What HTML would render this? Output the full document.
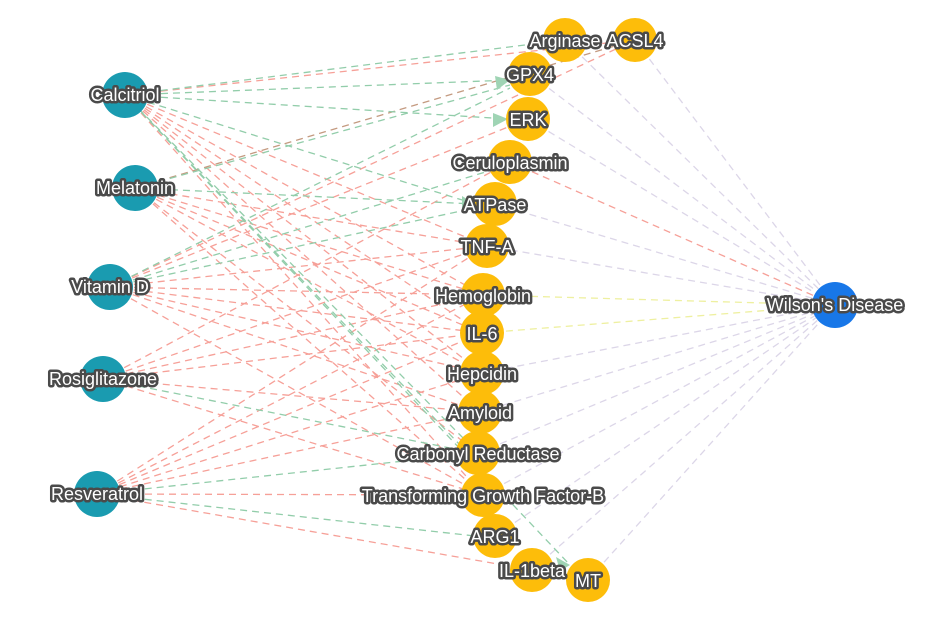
<!DOCTYPE html>
<html><head><meta charset="utf-8"><style>
html,body{margin:0;padding:0;background:#fff;}
svg{display:block}
text{font-family:"Liberation Sans",Arial,sans-serif;font-size:18px;fill:#fff;stroke:#4a4a4a;stroke-width:5px;paint-order:stroke;stroke-linejoin:round;text-anchor:middle;dominant-baseline:central}
.r{stroke:#f6a098;stroke-width:1.3;stroke-dasharray:7 5;fill:none}
.g{stroke:#92cdaa;stroke-width:1.3;stroke-dasharray:7 5;fill:none}
.w{stroke:#dcd6e8;stroke-width:1.3;stroke-dasharray:7 5;fill:none}
.t{fill:#1a9bb0}.y{fill:#fdbd0a}
</style></head><body>
<svg width="950" height="633" viewBox="0 0 950 633">
<g class="w">
<line x1="565" y1="40" x2="835" y2="305"/><line x1="635" y1="40" x2="835" y2="305"/>
<line x1="530" y1="74" x2="835" y2="305"/><line x1="528" y1="119" x2="835" y2="305"/>
<line x1="495" y1="204" x2="835" y2="305"/><line x1="487" y1="246" x2="835" y2="305"/>
<line x1="482" y1="373" x2="835" y2="305"/><line x1="480" y1="412" x2="835" y2="305"/>
<line x1="478" y1="453" x2="835" y2="305"/><line x1="483" y1="495" x2="835" y2="305"/>
<line x1="495" y1="536" x2="835" y2="305"/><line x1="532" y1="570" x2="835" y2="305"/>
<line x1="588" y1="580" x2="835" y2="305"/>
</g>
<line x1="510" y1="162" x2="835" y2="305" class="r"/>
<line x1="483" y1="295" x2="835" y2="305" style="stroke:#eef0a0;stroke-width:1.3;stroke-dasharray:7 5"/>
<line x1="482" y1="333" x2="835" y2="305" style="stroke:#eef0a0;stroke-width:1.3;stroke-dasharray:7 5"/>
<g class="r">
<line x1="125" y1="95" x2="635" y2="40"/><line x1="125" y1="95" x2="487" y2="246"/><line x1="125" y1="95" x2="483" y2="295"/><line x1="125" y1="95" x2="482" y2="333"/><line x1="125" y1="95" x2="482" y2="373"/><line x1="125" y1="95" x2="480" y2="412"/><line x1="125" y1="95" x2="483" y2="495"/>
<line x1="135" y1="188" x2="487" y2="246"/><line x1="135" y1="188" x2="483" y2="295"/><line x1="135" y1="188" x2="482" y2="333"/><line x1="135" y1="188" x2="482" y2="373"/><line x1="135" y1="188" x2="478" y2="453"/><line x1="135" y1="188" x2="483" y2="495"/>
<line x1="110" y1="287" x2="635" y2="40"/><line x1="110" y1="287" x2="528" y2="119"/><line x1="110" y1="287" x2="487" y2="246"/><line x1="110" y1="287" x2="483" y2="295"/><line x1="110" y1="287" x2="482" y2="333"/><line x1="110" y1="287" x2="482" y2="373"/><line x1="110" y1="287" x2="480" y2="412"/><line x1="110" y1="287" x2="483" y2="495"/>
<line x1="103" y1="379" x2="487" y2="246"/><line x1="103" y1="379" x2="483" y2="295"/><line x1="103" y1="379" x2="482" y2="333"/><line x1="103" y1="379" x2="480" y2="412"/><line x1="103" y1="379" x2="483" y2="495"/><line x1="103" y1="379" x2="510" y2="162"/>
<line x1="97" y1="494" x2="487" y2="246"/><line x1="97" y1="494" x2="483" y2="295"/><line x1="97" y1="494" x2="482" y2="333"/><line x1="97" y1="494" x2="482" y2="373"/><line x1="97" y1="494" x2="483" y2="495"/><line x1="97" y1="494" x2="532" y2="570"/><line x1="97" y1="494" x2="480" y2="412"/>
</g>
<line x1="135" y1="188" x2="635" y2="40" style="stroke:#c49a80;stroke-width:1.3;stroke-dasharray:7 5"/>
<g class="g">
<line x1="125" y1="95" x2="565" y2="40"/><line x1="125" y1="95" x2="510" y2="80"/><line x1="125" y1="95" x2="508" y2="119"/><line x1="125" y1="95" x2="475" y2="204"/><line x1="125" y1="95" x2="460" y2="445"/><line x1="125" y1="95" x2="570" y2="565"/><line x1="130" y1="100" x2="465" y2="440"/>
<line x1="135" y1="188" x2="510" y2="85"/><line x1="135" y1="188" x2="475" y2="204"/>
<line x1="110" y1="287" x2="510" y2="88"/><line x1="110" y1="287" x2="492" y2="170"/><line x1="110" y1="287" x2="475" y2="208"/>
<line x1="103" y1="379" x2="460" y2="450"/><line x1="97" y1="494" x2="475" y2="536"/><line x1="97" y1="494" x2="460" y2="455"/>
</g>
<g fill="#9fd4b4">
<polygon points="510,80 495,76 497,90"/><polygon points="508,119 493,113 493,127"/><polygon points="475,204 462,196 462,212"/><polygon points="570,565 556,557 560,571"/>
</g>
<circle class="y" cx="565" cy="40" r="22"/><circle class="y" cx="635" cy="40" r="22"/>
<circle class="y" cx="530" cy="74" r="22"/><circle class="y" cx="528" cy="119" r="22"/>
<circle class="y" cx="510" cy="162" r="22"/><circle class="y" cx="495" cy="204" r="22"/>
<circle class="y" cx="487" cy="246" r="22"/><circle class="y" cx="483" cy="295" r="22"/>
<circle class="y" cx="482" cy="333" r="22"/><circle class="y" cx="482" cy="373" r="22"/>
<circle class="y" cx="480" cy="412" r="22"/><circle class="y" cx="478" cy="453" r="22"/>
<circle class="y" cx="483" cy="495" r="22"/><circle class="y" cx="495" cy="536" r="22"/>
<circle class="y" cx="532" cy="570" r="22"/><circle class="y" cx="588" cy="580" r="22"/>
<circle class="t" cx="125" cy="95" r="23"/><circle class="t" cx="135" cy="188" r="23"/>
<circle class="t" cx="110" cy="287" r="23"/><circle class="t" cx="103" cy="379" r="23"/>
<circle class="t" cx="97" cy="494" r="23"/>
<circle cx="835" cy="305" r="23" fill="#1877e8"/>
<text x="125" y="95">Calcitriol</text><text x="135" y="188">Melatonin</text>
<text x="110" y="287">Vitamin D</text><text x="103" y="379">Rosiglitazone</text>
<text x="97" y="494">Resveratrol</text><text x="835" y="305">Wilson's Disease</text>
<text x="565" y="41">Arginase</text><text x="635" y="41">ACSL4</text>
<text x="530" y="75">GPX4</text><text x="528" y="120">ERK</text>
<text x="510" y="163">Ceruloplasmin</text><text x="495" y="205">ATPase</text>
<text x="487" y="247">TNF-A</text><text x="483" y="296">Hemoglobin</text>
<text x="482" y="334">IL-6</text><text x="482" y="374">Hepcidin</text>
<text x="480" y="413">Amyloid</text><text x="478" y="454">Carbonyl Reductase</text>
<text x="483" y="496">Transforming Growth Factor-B</text><text x="495" y="537">ARG1</text>
<text x="532" y="571">IL-1beta</text><text x="588" y="581">MT</text>
</svg>
</body></html>
